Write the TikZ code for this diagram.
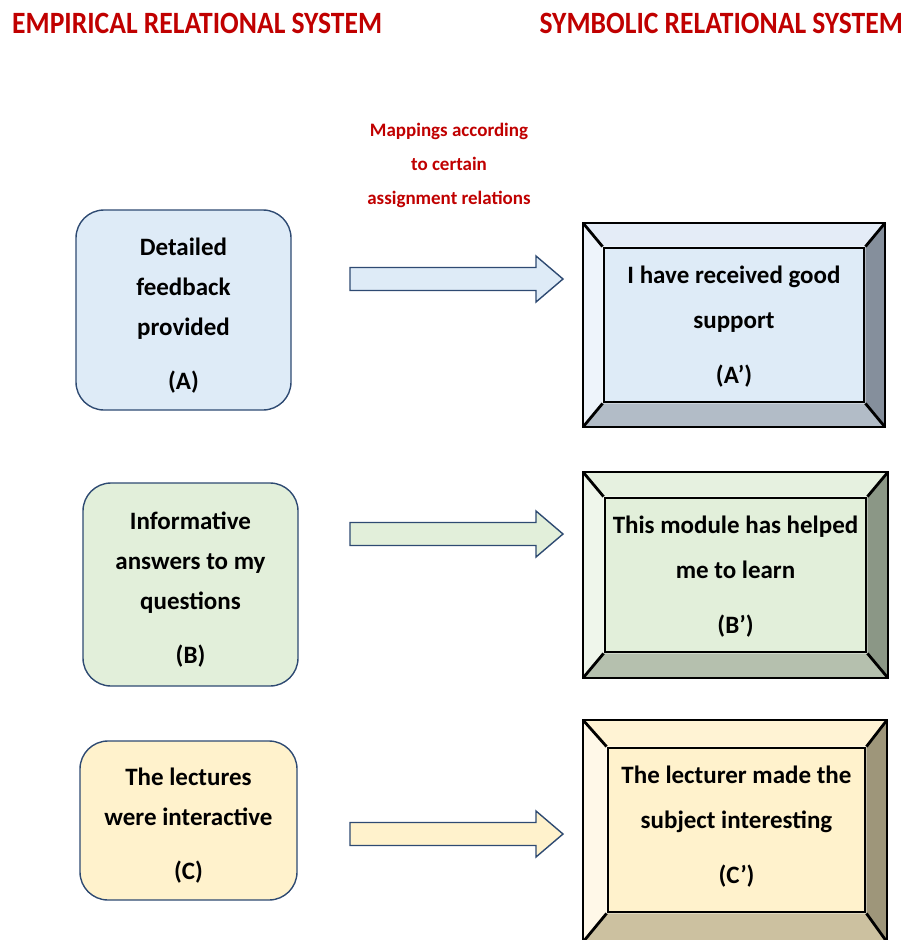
\documentclass[tikz,border=0pt]{standalone}
\usepackage{fontspec}
\setmainfont{Carlito}
\newfontfamily\headfont[FakeStretch=0.89]{Carlito}
\usetikzlibrary{backgrounds}
\definecolor{navy}{HTML}{2E4A72}
\definecolor{headred}{HTML}{C00000}
\definecolor{blueF}{HTML}{DEEBF7}
\definecolor{greenF}{HTML}{E2EFDA}
\definecolor{yellowF}{HTML}{FFF2CC}
% bevel shades: top, left, right, bottom
\definecolor{blueT}{HTML}{E4ECF7}\definecolor{blueL}{HTML}{EEF4FB}
\definecolor{blueR}{HTML}{858F9C}\definecolor{blueB}{HTML}{B2BCC7}
\definecolor{greenT}{HTML}{E6F1E0}\definecolor{greenL}{HTML}{EFF6EB}
\definecolor{greenR}{HTML}{8B9786}\definecolor{greenB}{HTML}{B5C0AE}
\definecolor{yellowT}{HTML}{FFF3D4}\definecolor{yellowL}{HTML}{FFF8E8}
\definecolor{yellowR}{HTML}{9E967A}\definecolor{yellowB}{HTML}{CCC1A0}
\begin{document}
\begin{tikzpicture}[x=1pt,y=-1pt,
  heading/.style={text=headred,font=\headfont\bfseries\fontsize{31}{36}\selectfont,inner sep=0},
  maplabel/.style={text=headred,align=center,font=\bfseries\fontsize{19}{34}\selectfont,inner sep=0},
  leftbox/.style={draw=navy,line width=1.4pt,rounded corners=28pt,inner sep=0},
  lefttext/.style={align=center,font=\bfseries\fontsize{25}{40}\selectfont,inner sep=0},
  innerbox/.style={draw=black,line width=2.8pt,inner sep=0},
  innertext/.style={align=center,font=\bfseries\fontsize{25}{45}\selectfont,inner sep=0},
  outerbox/.style={inner sep=0,outer sep=0},
  frame/.style={draw=black,line width=2.8pt},
  blockarrow/.style={draw=navy,line width=1.4pt,line join=miter},
]
\useasboundingbox (0,0) rectangle (907,940);

% titles
\node[heading,anchor=base west] (empirical) at (12,33) {EMPIRICAL RELATIONAL SYSTEM};
\node[heading,anchor=base east] (symbolic) at (903,33) {SYMBOLIC RELATIONAL SYSTEM};
\node[maplabel] (mapping) at (449,165) {Mappings according\\to certain\\assignment relations};

% empirical side
\node[leftbox,fill=blueF,minimum width=215,minimum height=200] (A) at (183.5,310) {};
\node[lefttext] (At) at (183.5,316) {Detailed\\feedback\\provided\\[14pt](A)};
\node[leftbox,fill=greenF,minimum width=215,minimum height=203] (B) at (190.5,584.5) {};
\node[lefttext] (Bt) at (190.5,589.5) {Informative\\answers to my\\questions\\[14pt](B)};
\node[leftbox,fill=yellowF,minimum width=217,minimum height=159] (C) at (188.5,820.5) {};
\node[lefttext] (Ct) at (188.5,825.5) {The lectures\\were interactive\\[14pt](C)};

% block arrows between the two systems
\newcommand\blockarrowat[2]{%
  \path[blockarrow,fill=#2] (350,#1-11.5) -- (536,#1-11.5) -- (536,#1-23) -- (563,#1)
    -- (536,#1+23) -- (536,#1+11.5) -- (350,#1+11.5) -- cycle;}
\blockarrowat{279}{blueF}
\blockarrowat{534}{greenF}
\blockarrowat{834}{yellowF}

% bevelled frame behind an inner node: #1 outer name, #2 inner name, #3 colour prefix
\newcommand\bevelframe[3]{%
  \begin{scope}[on background layer]
  \fill[#3T] (#1.north west) -- (#1.north east) -- (#2.north east) -- (#2.north west) -- cycle;
  \fill[#3L] (#1.north west) -- (#2.north west) -- (#2.south west) -- (#1.south west) -- cycle;
  \fill[#3R] (#1.north east) -- (#1.south east) -- (#2.south east) -- (#2.north east) -- cycle;
  \fill[#3B] (#1.south west) -- (#2.south west) -- (#2.south east) -- (#1.south east) -- cycle;
  \draw[frame] (#1.north west) rectangle (#1.south east);
  \draw[frame] (#1.north west) -- (#2.north west) (#1.north east) -- (#2.north east)
    (#1.south west) -- (#2.south west) (#1.south east) -- (#2.south east);
  \end{scope}}

% symbolic side
\node[innerbox,fill=blueF,minimum width=260,minimum height=154] (Ai) at (734,325) {};
\node[innertext] (Ait) at (734,327) {I have received good\\support\\[10pt](A’)};
\path node[outerbox,minimum width=302,minimum height=204] (Ao) at (734,325) {};
\bevelframe{Ao}{Ai}{blue}

\node[innerbox,fill=greenF,minimum width=261,minimum height=154] (Bi) at (735.5,575) {};
\node[innertext] (Bit) at (735.5,577) {This module has helped\\me to learn\\[10pt](B’)};
\path node[outerbox,minimum width=305,minimum height=206] (Bo) at (735.5,575) {};
\bevelframe{Bo}{Bi}{green}

\node[innerbox,fill=yellowF,minimum width=257,minimum height=164] (Ci) at (736.5,830) {};
\node[innertext] (Cit) at (736.5,827) {The lecturer made the\\subject interesting\\[10pt](C’)};
\path node[outerbox,minimum width=304,minimum height=222] (Co) at (735,831) {};
\bevelframe{Co}{Ci}{yellow}
\end{tikzpicture}
\end{document}
